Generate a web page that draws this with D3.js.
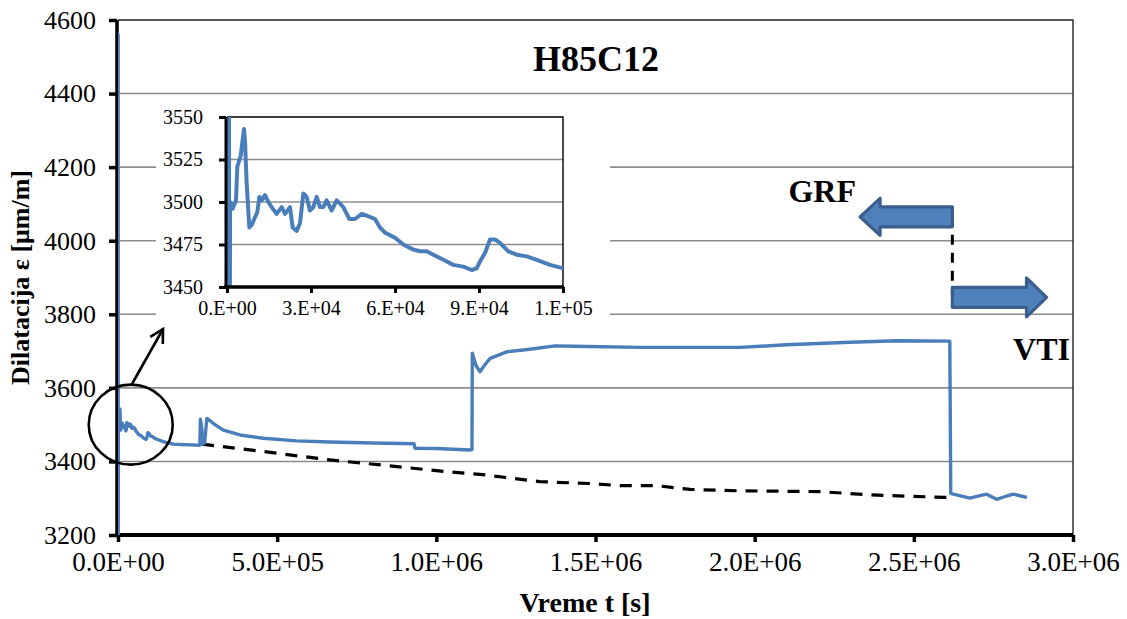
<!DOCTYPE html>
<html><head><meta charset="utf-8">
<script src="https://cdn.jsdelivr.net/npm/d3@7"></script>
<style>
body{margin:0;background:#fff}
svg{display:block}
text{font-family:"Liberation Serif","Times New Roman",serif;fill:#000}
</style>
</head><body>
<svg id="chart" width="1127" height="619"></svg>
<script>
// ---------- data ----------
const chartTitle = "H85C12";
const xAxisTitle = "Vreme t [s]";
const yAxisTitle = "Dilatacija ε [μm/m]";

// measured strain (blue line): time [s]
const tMeasured = [
  0, 300, 500, 800, 1100, 2024, 3214, 3690, 4881, 6071, 6428, 7024, 7976, 8810, 10000,
  10833, 11548, 12381, 13571, 14762, 15952, 17738, 19524, 20714, 22500, 23452, 24881,
  26071, 27262, 28452, 29643, 30833, 32024, 33214, 34405, 35595, 37381, 39167, 40357,
  41548, 43690, 45714, 48095, 49881, 52857, 54643, 56429, 60000, 62976, 66548, 68929,
  71310, 73690, 77262, 80833, 84405, 87381, 89167, 90357, 92143, 93929, 95714, 97500,
  100476, 103452, 107024, 110595, 115357, 120119,
  142000, 174000, 195000, 230000, 257000, 259000, 263000, 266000, 272000, 279000,
  290000, 300000, 331000, 383000, 457000, 561000, 666000, 800000, 930000, 933000,
  1000000, 1106000, 1112000, 1113000, 1125000, 1137000, 1150000, 1169000, 1221000,
  1294000, 1373000, 1430000, 1640000, 1954000, 2100000, 2300000, 2450000, 2613000,
  2616000, 2624000, 2676000, 2708000, 2729000, 2760000, 2792000, 2812000, 2855000
];
// measured strain (blue line): dilatation [μm/m]
const epsMeasured = [
  3520, 3508, 4560, 3200, 3500, 3496, 3501, 3521, 3527, 3543, 3536, 3511, 3485, 3486.5, 3491,
  3494, 3503, 3501, 3504, 3500, 3497, 3493, 3497, 3493, 3497, 3485, 3483,
  3487.5, 3505, 3503, 3495, 3497, 3503, 3497, 3497, 3501, 3495, 3501, 3499,
  3497, 3490, 3490, 3493, 3492, 3490, 3485, 3482, 3479, 3475, 3472, 3471,
  3471, 3469, 3466, 3463, 3462, 3460, 3461, 3465, 3470, 3478, 3478, 3476,
  3471, 3469, 3468, 3466, 3463, 3461,
  3454, 3447, 3446, 3445, 3444, 3515, 3490, 3448, 3450, 3517,
  3510, 3503, 3485, 3472, 3463, 3456, 3453, 3450, 3448, 3436,
  3435, 3431, 3432, 3694, 3660, 3644, 3660, 3680, 3698,
  3705, 3714, 3713, 3710, 3710, 3717, 3724, 3728, 3727,
  3313, 3311, 3300, 3307, 3311, 3297, 3306, 3311, 3302
];

// reference (dashed black) line
const tReference = [
  263900, 446000, 666000, 854000, 1033000, 1137000, 1325000, 1483000, 1577000,
  1693000, 1797000, 1954000, 2205000, 2362000, 2604000
];
const epsReference = [
  3447, 3428, 3404, 3388, 3372, 3365, 3345, 3340, 3334,
  3334, 3324, 3320, 3318, 3309, 3302
];

const xTickValues = [0, 500000, 1000000, 1500000, 2000000, 2500000, 3000000];
const xTickLabels = ["0.0E+00", "5.0E+05", "1.0E+06", "1.5E+06", "2.0E+06", "2.5E+06", "3.0E+06"];
const yTickValues = [3200, 3400, 3600, 3800, 4000, 4200, 4400, 4600];

const insetXTickValues = [0, 30000, 60000, 90000, 120000];
const insetXTickLabels = ["0.E+00", "3.E+04", "6.E+04", "9.E+04", "1.E+05"];
const insetYTickValues = [3450, 3475, 3500, 3525, 3550];

const labelGRF = "GRF";
const labelVTI = "VTI";

// ---------- layout ----------
const FONT = "'Liberation Serif','Times New Roman',serif";
const svg = d3.select("#chart");
const W = 1127, H = 619;
const plot = {left: 118, right: 1073, top: 20, bottom: 535};
const inset = {left: 227, right: 563, top: 117, bottom: 287};
const blue = "#4A7EBB";
const grid = "#8C8C8C";

const x = d3.scaleLinear().domain([0, 3000000]).range([plot.left, plot.right]);
const y = d3.scaleLinear().domain([3200, 4600]).range([plot.bottom, plot.top]);

const measured = tMeasured.map((t, i) => [t, epsMeasured[i]]);
const reference = tReference.map((t, i) => [t, epsReference[i]]);

svg.append("rect").attr("width", W).attr("height", H).attr("fill", "#fff");

const defs = svg.append("defs");
defs.append("clipPath").attr("id", "clipMain").append("rect")
  .attr("x", plot.left).attr("y", plot.top)
  .attr("width", plot.right - plot.left).attr("height", plot.bottom - plot.top);
defs.append("clipPath").attr("id", "clipInset").append("rect")
  .attr("x", inset.left).attr("y", inset.top)
  .attr("width", inset.right - inset.left).attr("height", inset.bottom - inset.top);

// gridlines
svg.append("g").selectAll("line")
  .data(yTickValues.filter(v => v > 3200 && v < 4600))
  .join("line")
  .attr("x1", plot.left).attr("x2", plot.right)
  .attr("y1", d => y(d)).attr("y2", d => y(d))
  .attr("stroke", grid).attr("stroke-width", 1.6);

// border (top, right)
svg.append("path")
  .attr("d", `M${plot.left},${y(4600)}H${plot.right}V${plot.bottom}`)
  .attr("fill", "none").attr("stroke", "#222").attr("stroke-width", 1.4);

// main axes
const yAxis = d3.axisLeft(y).tickValues(yTickValues).tickSize(8).tickPadding(10).tickFormat(d3.format("d"));
const gy = svg.append("g").attr("transform", `translate(${plot.left - 1},0)`).call(yAxis);
gy.attr("font-family", FONT);
gy.select(".domain").attr("d", `M0,${plot.top}V${plot.bottom + 1}`).attr("stroke", "#000").attr("stroke-width", 3.5);
gy.selectAll(".tick line").attr("stroke", "#000").attr("stroke-width", 3.5);
gy.selectAll(".tick text").attr("font-size", 26).attr("x", -21);

const xAxis = d3.axisBottom(x).tickValues(xTickValues).tickSize(7).tickPadding(10)
  .tickFormat((d, i) => xTickLabels[i]);
const gx = svg.append("g").attr("transform", `translate(0,${plot.bottom})`).call(xAxis);
gx.attr("font-family", FONT);
gx.select(".domain").attr("d", `M${plot.left - 3},0H${plot.right}`).attr("stroke", "#000").attr("stroke-width", 4);
gx.selectAll(".tick line").attr("stroke", "#000").attr("stroke-width", 3.5);
gx.selectAll(".tick text").attr("font-size", 27);

// series
const lineMain = d3.line().x(d => x(d[0])).y(d => y(d[1]));
const gMain = svg.append("g").attr("clip-path", "url(#clipMain)");
gMain.append("path").datum(reference).attr("d", lineMain)
  .attr("fill", "none").attr("stroke", "#000").attr("stroke-width", 3.2)
  .attr("stroke-dasharray", "12,9");
gMain.append("path").datum(measured).attr("d", lineMain)
  .attr("fill", "none").attr("stroke", blue).attr("stroke-width", 3.4)
  .attr("stroke-linejoin", "round");

// ---------- inset ----------
svg.append("rect").attr("x", 156).attr("y", 102).attr("width", 610 - 156).attr("height", 325 - 102)
  .attr("fill", "#fff");
const xi = d3.scaleLinear().domain([0, 120000]).range([inset.left, inset.right]);
const yi = d3.scaleLinear().domain([3450, 3550]).range([inset.bottom, inset.top]);

svg.append("g").selectAll("line")
  .data(insetYTickValues.filter(v => v > 3450 && v < 3550))
  .join("line")
  .attr("x1", inset.left).attr("x2", inset.right)
  .attr("y1", d => yi(d)).attr("y2", d => yi(d))
  .attr("stroke", grid).attr("stroke-width", 1.5);
svg.append("path")
  .attr("d", `M${inset.left},${inset.top}H${inset.right}V${inset.bottom}`)
  .attr("fill", "none").attr("stroke", "#000").attr("stroke-width", 1.4);

const lineInset = d3.line().x(d => xi(d[0])).y(d => yi(d[1]));
svg.append("g").attr("clip-path", "url(#clipInset)")
  .append("path").datum(measured.filter(d => d[0] <= 125000)).attr("d", lineInset)
  .attr("fill", "none").attr("stroke", blue).attr("stroke-width", 4)
  .attr("stroke-linejoin", "round");

const yAxisI = d3.axisLeft(yi).tickValues(insetYTickValues).tickSize(7).tickPadding(4).tickFormat(d3.format("d"));
const gyi = svg.append("g").attr("transform", `translate(${inset.left - 1},0)`).call(yAxisI);
gyi.attr("font-family", FONT);
gyi.select(".domain").attr("d", `M0,${inset.top}V${inset.bottom + 1}`).attr("stroke", "#000").attr("stroke-width", 3);
gyi.selectAll(".tick line").attr("stroke", "#000").attr("stroke-width", 3);
gyi.selectAll(".tick text").attr("font-size", 20).attr("x", -23);

const xAxisI = d3.axisBottom(xi).tickValues(insetXTickValues).tickSize(6).tickPadding(8)
  .tickFormat((d, i) => insetXTickLabels[i]);
const gxi = svg.append("g").attr("transform", `translate(0,${inset.bottom})`).call(xAxisI);
gxi.attr("font-family", FONT);
gxi.select(".domain").attr("d", `M${inset.left - 3},0H${inset.right + 1}`).attr("stroke", "#000").attr("stroke-width", 3.5);
gxi.selectAll(".tick line").attr("stroke", "#000").attr("stroke-width", 3);
gxi.selectAll(".tick text").attr("font-size", 20);

// ---------- annotations ----------
// circle around early part and pointer arrow to the inset
svg.append("ellipse").attr("cx", x(40000)).attr("cy", y(3500)).attr("rx", 42).attr("ry", 40)
  .attr("fill", "none").attr("stroke", "#000").attr("stroke-width", 2.6);
const p1 = [132, 384], p2 = [163, 329];
svg.append("line").attr("x1", p1[0]).attr("y1", p1[1]).attr("x2", p2[0]).attr("y2", p2[1])
  .attr("stroke", "#000").attr("stroke-width", 2.6);
(function(){
  const ang = Math.atan2(p2[1] - p1[1], p2[0] - p1[0]);
  const L = 15, spread = 0.5;
  const a = [p2[0] - L * Math.cos(ang - spread), p2[1] - L * Math.sin(ang - spread)];
  const b = [p2[0] - L * Math.cos(ang + spread), p2[1] - L * Math.sin(ang + spread)];
  svg.append("path").attr("d", `M${a[0]},${a[1]}L${p2[0]},${p2[1]}L${b[0]},${b[1]}`)
    .attr("fill", "none").attr("stroke", "#000").attr("stroke-width", 2.6)
    .attr("stroke-linejoin", "miter");
})();

// GRF / VTI block arrows, positioned in data coordinates
const tSwitch = 2621000;
svg.append("line")
  .attr("x1", x(tSwitch)).attr("x2", x(tSwitch))
  .attr("y1", y(4065)).attr("y2", y(3852))
  .attr("stroke", "#000").attr("stroke-width", 3).attr("stroke-dasharray", "10,8");

function blockArrow(tailX, headBackX, tipX, cy, bodyHalf, headHalf) {
  return `M${tipX},${cy}L${headBackX},${cy - headHalf}L${headBackX},${cy - bodyHalf}` +
    `L${tailX},${cy - bodyHalf}L${tailX},${cy + bodyHalf}L${headBackX},${cy + bodyHalf}` +
    `L${headBackX},${cy + headHalf}Z`;
}
svg.append("path")
  .attr("d", blockArrow(x(tSwitch), x(2394000), x(2331000), y(4065), 10, 18.5))
  .attr("fill", "#4F81BD").attr("stroke", "#3B5E8C").attr("stroke-width", 3.2)
  .attr("stroke-linejoin", "round");
svg.append("path")
  .attr("d", blockArrow(x(tSwitch), x(2854000), x(2917000), y(3846), 10, 19.5))
  .attr("fill", "#4F81BD").attr("stroke", "#3B5E8C").attr("stroke-width", 3.2)
  .attr("stroke-linejoin", "round");

svg.append("text").attr("x", 856).attr("y", 202).attr("text-anchor", "end")
  .attr("font-size", 32).attr("font-weight", "bold").text(labelGRF);
svg.append("text").attr("x", 1070).attr("y", 360).attr("text-anchor", "end")
  .attr("font-size", 32).attr("font-weight", "bold").text(labelVTI);

// titles
svg.append("text").attr("x", 596).attr("y", 71).attr("text-anchor", "middle")
  .attr("font-size", 36).attr("font-weight", "bold").text(chartTitle);
svg.append("text").attr("x", 585).attr("y", 612).attr("text-anchor", "middle")
  .attr("font-size", 28).attr("font-weight", "bold").text(xAxisTitle);
svg.append("text").attr("transform", `translate(29,${(plot.top + plot.bottom) / 2}) rotate(-90)`)
  .attr("text-anchor", "middle")
  .attr("font-size", 26).attr("font-weight", "bold").text(yAxisTitle);
</script>
</body></html>
